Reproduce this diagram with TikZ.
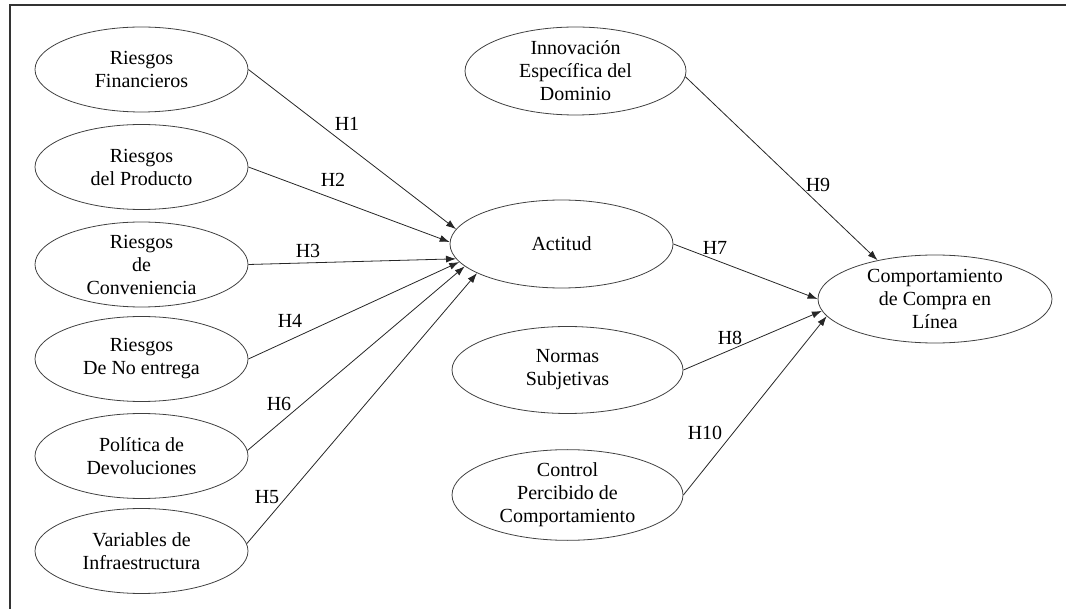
\documentclass[tikz,border=0pt]{standalone}
\usepackage{fontspec}
\setmainfont{Liberation Serif}
\usetikzlibrary{shapes.geometric,arrows.meta}
\begin{document}
\begin{tikzpicture}[x=1pt,y=-1pt,
  var/.style={ellipse,draw=black!75,line width=0.8pt,inner sep=0pt,align=center,
    font=\fontsize{20}{23}\selectfont},
  leftvar/.style={var,minimum width=213pt,minimum height=85pt},
  lab/.style={inner sep=0pt,font=\fontsize{20}{23}\selectfont},
  arr/.style={draw=black!85,line width=0.8pt,-{Latex[length=10pt,width=7pt]}}]
\useasboundingbox (0,0) rectangle (1066,609);
\draw[line width=1.2pt,black!80] (1066,5) -- (10,5) -- (10,609);

% left column
\node[leftvar] (rf) at (141.5,69.5) {Riesgos\\Financieros};
\node[leftvar] (rp) at (141.5,167) {Riesgos\\del Producto};
\node[leftvar] (rc) at (141.5,264.5) {Riesgos\\de\\Conveniencia};
\node[leftvar] (rn) at (141.5,359) {Riesgos\\De No entrega};
\node[leftvar] (pd) at (141.5,456) {Política de\\Devoluciones};
\node[leftvar] (vi) at (141.5,551) {Variables de\\Infraestructura};

% middle column
\node[var,minimum width=221pt,minimum height=88pt] (inn) at (575.5,71) {Innovación\\Específica del\\Dominio};
\node[var,minimum width=223pt,minimum height=88pt] (act) at (561.5,244) {Actitud};
\node[var,minimum width=231pt,minimum height=87pt] (ns) at (567.5,370) {Normas\\Subjetivas};
\node[var,minimum width=231pt,minimum height=88pt] (cp) at (567.5,495) {Control\\Percibido de\\Comportamiento};

% right
\node[var,minimum width=234pt,minimum height=88pt] (cc) at (935,299) {Comportamiento\\de Compra en\\Línea};

% connectors
\draw[arr] (rf.east) -- (act.172);
\draw[arr] (rp.east) -- (act.179.5);
\draw[arr] (rc.east) -- (act.188);
\draw[arr] (rn.east) -- (act.190.7);
\draw[arr] (pd.3) -- (act.193);
\draw[arr] (vi.4) -- (act.199.5);
\draw[arr] (inn.-3) -- (cc.146);
\draw[arr] (act.east) -- (cc.180);
\draw[arr] (ns.east) -- (cc.186.3);
\draw[arr] (cp.east) -- (cc.189.5);

% labels
\node[lab] (h1) at (347,124) {H1};
\node[lab] (h2) at (333,180) {H2};
\node[lab] (h3) at (308,251) {H3};
\node[lab] (h4) at (290,321) {H4};
\node[lab] (h6) at (279,404) {H6};
\node[lab] (h5) at (267,497) {H5};
\node[lab] (h7) at (715,248) {H7};
\node[lab] (h8) at (730,338) {H8};
\node[lab] (h9) at (818,185) {H9};
\node[lab] (h10) at (705,433) {H10};
\end{tikzpicture}
\end{document}
